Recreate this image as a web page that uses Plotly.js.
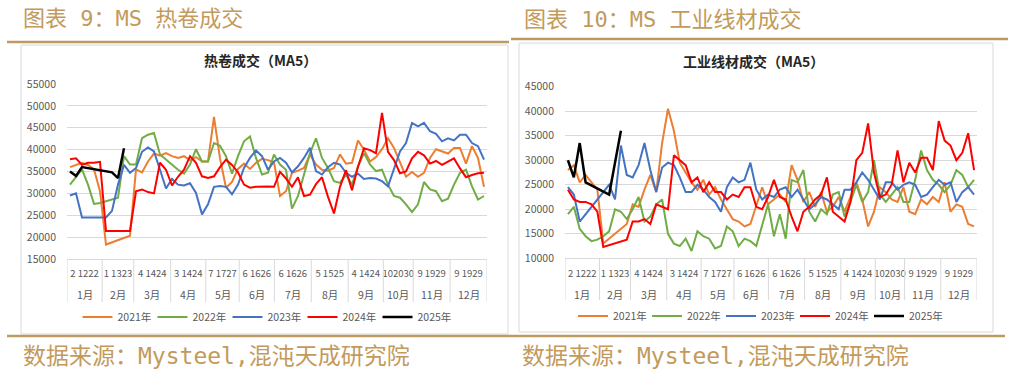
<!DOCTYPE html>
<html><head><meta charset="utf-8">
<script src="https://cdn.plot.ly/plotly-3.0.1.min.js"></script>
<style>
html,body{margin:0;padding:0;background:#fff;}
#wrap{position:relative;width:1020px;height:380px;overflow:hidden;}
.panel{position:absolute;top:0;width:510px;height:380px;}
</style>
</head><body>
<div id="wrap"><div id="left" class="panel" style="left:0"></div><div id="right" class="panel" style="left:510px"></div></div>
<script>
// ---------- shared categories ----------
const months = ['1月','2月','3月','4月','5月','6月','7月','8月','9月','10月','11月','12月'];
const monthDays = [20,18,21,20,19,20,21,21,20,17,21,21];
const dayLabels = ['2 1222','1 1323','4 1424','3 1424','7 1727','6 1626','6 1626','5 1525','4 1424','102030','9 1929','9 1929'];
const years = ['2021年','2022年','2023年','2024年','2025年'];
const yearColors = ['#ED7D31','#70AD47','#4472C4','#FF0000','#000000'];
const samplesPerYear = 70;

// ---------- 热卷成交 (MA5) ----------
const hrc2021 = [36000,36500,37000,36500,35500,30500,18300,null,null,null,20300,35500,34800,37300,39100,38600,39200,38500,38100,38500,37600,38300,37300,37300,47500,38000,31300,32600,35600,36800,35600,37000,37900,37600,37100,
  29400,30500,34700,35200,35800,38900,36600,35400,35200,35800,38900,36800,37000,42100,40000,37300,38300,40100,42600,40400,37300,33800,34900,33800,34700,38100,40100,39600,39100,40400,40400,36800,40800,38100,31500];
const hrc2022 = [32000,33800,35500,32000,27600,27800,28200,28600,29000,38500,36600,36600,42600,43400,43800,38900,37700,36600,35400,34500,36600,40100,37300,37300,41500,40900,38500,34500,38500,41900,43000,38100,34300,34700,38900,
  36600,35400,26500,29400,34300,39200,42600,38100,35800,32800,32400,34300,32000,36200,39200,36600,35100,35400,32000,29400,29000,27500,25700,27500,32600,30900,30500,28200,28800,32000,34700,35400,31600,28600,29400];
const hrc2023 = [29500,30000,24500,24500,24500,24500,24500,26000,32000,36500,34700,35800,39500,40500,39600,35400,31100,33300,32000,31800,32300,30100,25200,27500,31500,31700,31500,29800,32000,35800,38100,39800,38500,35400,37300,
  38100,37000,34800,36200,38100,40400,35100,34300,36000,37000,36600,34700,33800,34500,33300,33500,33400,32800,31600,35400,39600,41500,46100,45300,46100,44200,43600,41900,42600,42100,43400,43400,41500,40800,37700];
const hrc2024 = [37800,38000,36500,37000,37000,37200,21400,null,null,null,21400,30500,30900,30300,30000,37000,35400,31800,33800,35400,38500,37000,33900,33500,33900,36000,37700,36500,34800,32000,31300,31500,31600,31600,31500,
  34900,33400,31500,33700,29400,29700,32100,33700,29200,25400,31500,35300,30700,36100,40300,39900,39200,48400,39500,37600,34600,35000,38000,39500,38700,36800,37400,36500,37200,38000,35700,33700,34200,34600,34700];
const hrc2025 = [35000,34000,36000,null,null,null,null,34800,33500,40300];

// ---------- 工业线材成交 (MA5) ----------
const wr2021 = [28000,29000,25500,27000,25500,24000,13000,null,null,null,17000,21000,20500,24000,27000,23500,33500,40500,36000,29500,27500,25500,24000,26000,23000,24500,22000,20000,18000,17500,16500,17000,21000,24500,21000,
  22000,23000,21500,29000,26000,21500,23500,20500,23500,19500,20500,22500,19500,22500,25500,22000,16500,19500,24500,23500,22000,21500,24500,19500,19000,22000,21000,22500,21500,25500,19500,21000,20500,17000,16500];
const wr2022 = [19000,20500,16000,14500,13500,13800,14500,15500,20000,19500,18000,20000,22500,17500,18500,21000,22000,15000,13000,12500,14000,11500,15500,14500,14000,12000,12500,16500,15500,12500,14000,13500,12500,16500,21000,
  14500,19000,14000,26000,25500,28000,19500,17500,20000,19000,23000,23500,18500,21500,25000,21500,23500,30000,23000,21500,23000,24500,21500,21500,26000,32000,28000,26000,25000,23500,25000,28000,27000,24500,26000];
const wr2023 = [24500,23000,17500,null,null,null,null,25000,22000,33000,27000,26500,29000,33500,28000,23500,28500,29500,29000,26500,23500,23500,25000,24000,22500,21500,19500,24500,26500,25500,26000,29500,24000,22000,23000,
  22500,24000,24500,22500,24000,22000,20000,21000,22500,22000,21000,20000,24000,24000,25500,27500,26000,23900,22000,25500,25500,24000,25000,25500,25000,22500,23000,24500,26000,25000,25500,21500,23500,24500,23000];
const wr2024 = [24000,22000,21500,21500,21000,19500,12300,null,null,null,13800,17500,17500,18000,17000,21000,20500,20000,31000,30000,29000,25500,26500,23500,25500,23500,23500,22000,23000,22500,24500,24500,20500,20000,22500,
  26000,22500,22000,18500,15500,19500,20500,22000,23000,26500,19500,18500,17500,21500,30000,31500,37500,27500,22500,23000,25000,32000,25500,29500,27500,30500,30500,28000,38000,34000,33000,30000,31500,35500,28000];
const wr2025 = [30000,26500,33500,25500,null,null,null,23000,29500,36000];

const GOLD_LINE = '#BC9A61', GOLD_TEXT = '#C39A5B', GRID = '#D9D9D9', AXIS_TXT = '#595959';
const FONT = '"Noto Sans CJK SC", "Noto Sans", sans-serif';
const HEAD_FONT = '"DejaVu Sans Mono", "Noto Sans CJK SC", monospace';

function makePanel(divId, series, cfg) {
  const W = 510, H = 380;
  const totalDays = monthDays.reduce((a, b) => a + b, 0);
  const bounds = [0];
  monthDays.forEach(d => bounds.push(bounds[bounds.length - 1] + d));
  const centers = monthDays.map((d, i) => bounds[i] + d / 2);
  const px = v => v / W, py = v => 1 - v / H;

  const traces = series.map((vals, k) => ({
    type: 'scatter', mode: 'lines', name: years[k],
    x: vals.map((v, i) => (i + 0.5) * totalDays / samplesPerYear),
    y: vals, connectgaps: true,
    line: {color: yearColors[k], width: k === 4 ? 2.5 : 2},
    hoverinfo: 'skip'
  }));

  const shapes = [];
  shapes.push({type:'line', xref:'paper', yref:'paper', x0:px(cfg.topLine[0]), x1:px(cfg.topLine[1]), y0:py(cfg.topLine[2]), y1:py(cfg.topLine[2]), line:{color:GOLD_LINE, width:2.5}});
  shapes.push({type:'line', xref:'paper', yref:'paper', x0:px(cfg.bottomLine[0]), x1:px(cfg.bottomLine[1]), y0:py(cfg.bottomLine[2]), y1:py(cfg.bottomLine[2]), line:{color:GOLD_LINE, width:2.5}});
  shapes.push({type:'rect', xref:'paper', yref:'paper', x0:px(cfg.box[0]), y0:py(cfg.box[1]), x1:px(cfg.box[2]), y1:py(cfg.box[3]), line:{color:GRID, width:1}, layer:'below'});
  bounds.forEach(b => shapes.push({type:'line', xref:'x', yref:'paper', x0:b, x1:b, y0:py(cfg.plot[3]), y1:py(cfg.divBottom), line:{color:GRID, width:1}}));

  const ann = [];
  ann.push({text: cfg.header, xref:'paper', yref:'paper', x:px(cfg.headerX), y:py(cfg.headerY), xanchor:'left', yanchor:'middle', showarrow:false, font:{family:HEAD_FONT, size:22, color:GOLD_TEXT}});
  ann.push({text: '数据来源：Mysteel,混沌天成研究院', xref:'paper', yref:'paper', x:px(cfg.srcX), y:py(cfg.srcY), xanchor:'left', yanchor:'middle', showarrow:false, font:{family:HEAD_FONT, size:23, color:GOLD_TEXT}});
  ann.push({text: '<b>' + cfg.title + '</b>', xref:'paper', yref:'paper', x:px(cfg.titleX), y:py(cfg.titleY), xanchor:'center', yanchor:'middle', showarrow:false, font:{family:FONT, size:14, color:'#262626'}});
  months.forEach((m, i) => ann.push({text:m, xref:'x', yref:'paper', x:centers[i], y:py(cfg.monthY), xanchor:'center', yanchor:'middle', showarrow:false, font:{family:FONT, size:10.5, color:AXIS_TXT}}));

  const layout = {
    width: W, height: H, margin:{l:0, r:0, t:0, b:0},
    paper_bgcolor:'#ffffff', plot_bgcolor:'rgba(0,0,0,0)',
    font:{family:FONT, color:AXIS_TXT},
    showlegend:true,
    legend:{orientation:'h', x:px(cfg.legendX), xanchor:'center', y:py(cfg.legendY), yanchor:'middle',
      entrywidth: cfg.entryW, entrywidthmode:'pixels', font:{family:FONT, size:10.5, color:AXIS_TXT}, bgcolor:'rgba(0,0,0,0)', itemwidth:30},
    xaxis:{domain:[px(cfg.plot[0]), px(cfg.plot[2])], range:[0, totalDays], tickmode:'array', tickvals:centers, ticktext:dayLabels,
      tickangle:0, showgrid:false, zeroline:false, showline:true, linecolor:GRID, linewidth:1, ticks:'', ticklabelstandoff:cfg.dayStandoff,
      tickfont:{family:FONT, size:9.5, color:AXIS_TXT}, fixedrange:true},
    yaxis:{domain:[py(cfg.plot[3]), py(cfg.plot[1])], range:cfg.yRange, tick0:cfg.yRange[0], dtick:5000, tickformat:'d',
      showgrid:true, gridcolor:GRID, gridwidth:1, zeroline:false, showline:false, ticks:'', ticklabelstandoff:10,
      tickfont:{family:FONT, size:10.5, color:AXIS_TXT}, fixedrange:true},
    shapes: shapes, annotations: ann
  };
  Plotly.newPlot(divId, traces, layout, {staticPlot:true, displayModeBar:false});
}

makePanel('left', [hrc2021, hrc2022, hrc2023, hrc2024, hrc2025], {
  header:'图表 9：MS 热卷成交', headerX:21, headerY:18.5,
  topLine:[7,509,42], bottomLine:[7,510,336], box:[21,45,508,334],
  plot:[67,84,487,259], divBottom:302, monthY:294, dayStandoff:6,
  title:'热卷成交（MA5）', titleX:260, titleY:60,
  legendX:265, legendY:317, entryW:30,
  srcX:21, srcY:356, yRange:[15000,55000]
});
makePanel('right', [wr2021, wr2022, wr2023, wr2024, wr2025], {
  header:'图表 10：MS 工业线材成交', headerX:12, headerY:19,
  topLine:[1,498,39], bottomLine:[0,495,336], box:[9,43,483,332],
  plot:[55,86.7,467,258.3], divBottom:300, monthY:294, dayStandoff:6,
  title:'工业线材成交（MA5）', titleX:243, titleY:61,
  legendX:248, legendY:316, entryW:29,
  srcX:10, srcY:356, yRange:[10000,45000]
});
</script>
</body></html>
